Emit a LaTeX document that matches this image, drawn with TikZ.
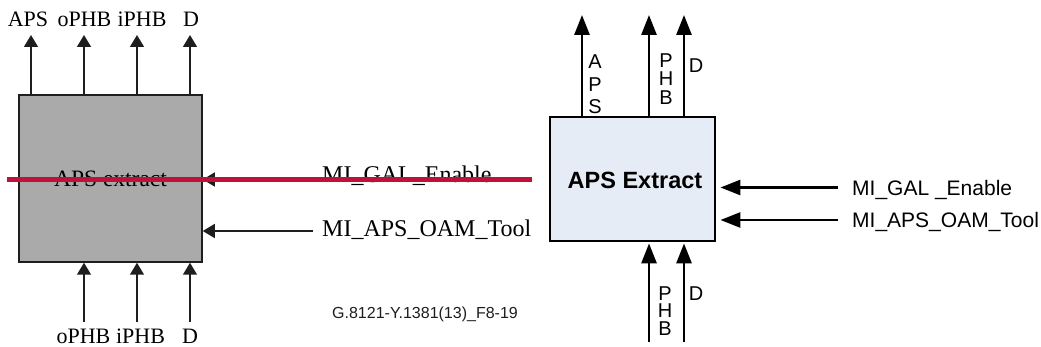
\documentclass[tikz,border=0pt]{standalone}
\usepackage{fontspec}
\usetikzlibrary{arrows.meta}
\newfontfamily\tms{Liberation Serif}
\newfontfamily\arl{Liberation Sans}
\definecolor{redln}{RGB}{190,18,58}
\definecolor{lgray}{RGB}{170,170,170}
\definecolor{lblue}{RGB}{230,236,246}
\definecolor{ink}{RGB}{30,30,30}
\tikzset{
  lboxst/.style={draw=ink, line width=1.5pt, fill=lgray, minimum width=183pt, minimum height=167pt, inner sep=0pt},
  rboxst/.style={draw=black, line width=2.8pt, fill=lblue, minimum width=165pt, minimum height=124pt, inner sep=0pt},
  larr/.style={draw=ink, line width=1.5pt, -{Triangle[length=12pt,width=14pt]}},
  rarr/.style={draw=black, line width=2.8pt, -{Triangle[length=20pt,width=15pt]}},
  tlab/.style={font=\tms\fontsize{22}{26}\selectfont, inner sep=0pt, anchor=base},
  tmi/.style={font=\tms\fontsize{24}{28}\selectfont, inner sep=0pt, anchor=base west},
  alab/.style={font=\arl\fontsize{20}{22}\selectfont, inner sep=0pt, align=center},
  ami/.style={font=\arl\fontsize{21}{26}\selectfont, inner sep=0pt, anchor=base west},
  redline/.style={draw=redln, line width=5pt}
}
\begin{document}
\begin{tikzpicture}[x=1pt,y=-1pt]
\useasboundingbox[fill=white] (0,0) rectangle (1041,347);

% ---------------- left diagram ----------------
\node[lboxst] (lbox) at (110.5,178.5) {};
\node[tlab, font=\tms\fontsize{23.5}{27}\selectfont] (ltxt) at (110.5,187) {APS extract};

\coordinate (lt1) at (31,35);
\coordinate (lt2) at (84,35);
\coordinate (lt3) at (137,35);
\coordinate (lt4) at (190,35);
\draw[larr] (lbox.north -| lt1) -- (lt1);
\draw[larr] (lbox.north -| lt2) -- (lt2);
\draw[larr] (lbox.north -| lt3) -- (lt3);
\draw[larr] (lbox.north -| lt4) -- (lt4);
\node[tlab] (ltl1) at (28,27) {APS};
\node[tlab] (ltl2) at (84.5,27) {oPHB};
\node[tlab] (ltl3) at (142,27) {iPHB};
\node[tlab] (ltl4) at (191,27) {D};

\coordinate (lb2) at (84,322);
\coordinate (lb3) at (137,322);
\coordinate (lb4) at (190,322);
\draw[larr] (lb2) -- (lbox.south -| lb2);
\draw[larr] (lb3) -- (lbox.south -| lb3);
\draw[larr] (lb4) -- (lbox.south -| lb4);
\node[tlab] (lbl2) at (83.5,343) {oPHB};
\node[tlab] (lbl3) at (140.5,343) {iPHB};
\node[tlab] (lbl4) at (190,343) {D};

\coordinate (lm1) at (313,179.5);
\coordinate (lm2) at (313,231);
\draw[larr] (lm1) -- (lbox.east |- lm1);
\draw[larr] (lm2) -- (lbox.east |- lm2);
\node[tmi] (lmt1) at (322,183) {MI\_GAL\_Enable};
\node[tmi] (lmt2) at (322,237) {MI\_APS\_OAM\_Tool};

\node[font=\arl\fontsize{16}{18}\selectfont, text=ink, inner sep=0pt, anchor=west] (fig) at (332,314) {G.8121-Y.1381(13)\_F8-19};

\coordinate (rl1) at (7,179.5);
\coordinate (rl2) at (532,179.5);
\draw[redline] (rl1) -- (rl2);

% ---------------- right diagram ----------------
\node[rboxst] (rbox) at (632.5,179) {};
\node[font=\arl\bfseries\fontsize{23.5}{27}\selectfont, inner sep=0pt, anchor=base] (rtxt) at (635,188.5) {APS Extract};

\coordinate (rt1) at (582,15);
\coordinate (rt2) at (649,15);
\coordinate (rt3) at (684,15);
\draw[rarr] (rbox.north -| rt1) -- (rt1);
\draw[rarr] (rbox.north -| rt2) -- (rt2);
\draw[rarr] (rbox.north -| rt3) -- (rt3);
\node[alab, font=\arl\fontsize{20}{22.3}\selectfont] (rtl1) at (595,84.5) {A\\P\\S};
\node[alab, font=\arl\fontsize{20}{18.5}\selectfont] (rtl2) at (666,79) {P\\H\\B};
\node[alab] (rtl3) at (696,65.5) {D};

\coordinate (rb2) at (649,342);
\coordinate (rb3) at (684,342);
\draw[rarr, shorten >=1pt] (rb2) -- (rbox.south -| rb2);
\draw[rarr, shorten >=1pt] (rb3) -- (rbox.south -| rb3);
\node[alab, font=\arl\fontsize{20}{17.7}\selectfont] (rbl2) at (665,311) {P\\H\\B};
\node[alab] (rbl3) at (696,293.5) {D};

\coordinate (rm1) at (838,187.5);
\coordinate (rm2) at (838,220);
\draw[rarr, shorten >=4pt] (rm1) -- (rbox.east |- rm1);
\draw[rarr, shorten >=4pt] (rm2) -- (rbox.east |- rm2);
\node[ami] (rmt1) at (852,195.5) {MI\_GAL \_Enable};
\node[ami] (rmt2) at (852,228) {MI\_APS\_OAM\_Tool};
\end{tikzpicture}
\end{document}
